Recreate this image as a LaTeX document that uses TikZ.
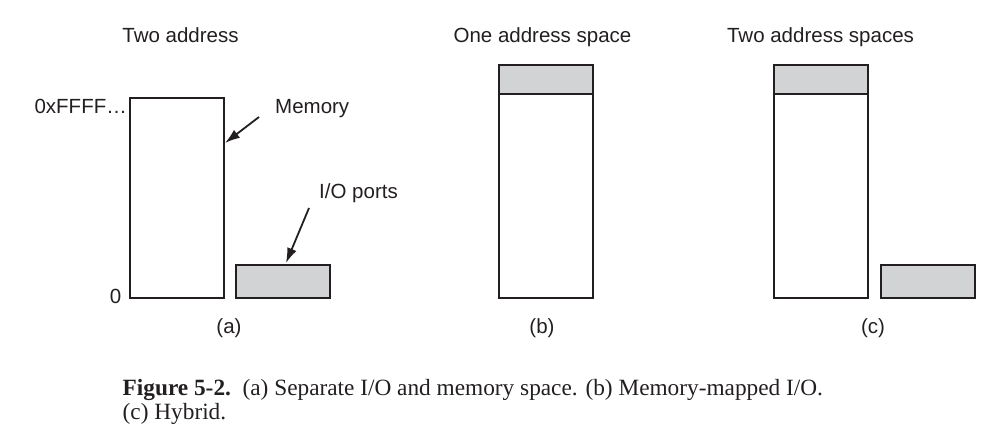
\documentclass[tikz,border=0pt]{standalone}
\usepackage{fontspec}
\setmainfont{Liberation Sans}
\newfontfamily\capfont{Liberation Serif}
\usetikzlibrary{arrows.meta}
\definecolor{ink}{HTML}{231F20}
\definecolor{iogray}{HTML}{D2D3D5}
\tikzset{
  blk/.style={draw=ink, line width=1.8pt, inner sep=0pt, outer sep=0pt, anchor=north west},
  mem/.style={blk, fill=white},
  io/.style={blk, fill=iogray},
  lbl/.style={font=\fontsize{20.5}{24}\selectfont, text=ink, inner sep=0pt},
  captxt/.style={anchor=base west, inner sep=0pt, text=ink, font=\capfont\fontsize{23.3}{24}\selectfont},
  arr/.style={draw=ink, line width=1.8pt, -{Latex[length=15pt,width=10pt]}},
}
\begin{document}
\begin{tikzpicture}[x=1pt,y=-1pt]
\useasboundingbox (0,0) rectangle (998,427);
% (a)
\node[mem, minimum width=94pt, minimum height=200pt] (memA) at (130,98) {};
\node[io, minimum width=94pt, minimum height=33pt] (ioA) at (236,265) {};
\node[lbl, anchor=base] (titleA) at (180.5,43) {Two address};
\node[lbl, anchor=base east] (top) at (127,113.5) {0xFFFF…};
\node[lbl, anchor=base east] (zero) at (121.5,303.5) {0};
\node[lbl, anchor=base west] (memlbl) at (275,114) {Memory};
\node[lbl, anchor=base west] (iolbl) at (319,199) {I/O ports};
\node[lbl, anchor=base] (capA) at (229,334) {(a)};
\coordinate (memtail) at (259,117);
\coordinate (memhead) at (225,143);
\coordinate (iotail) at (309,208);
\coordinate (iohead) at (286,263);
\draw[arr] (memtail) -- (memhead);
\draw[arr] (iotail) -- (iohead);
% (b)
\node[io, minimum width=94pt, minimum height=29pt] (ioB) at (499,65) {};
\node[mem, minimum width=94pt, minimum height=204pt] (memB) at (499,94) {};
\node[lbl, anchor=base] (titleB) at (542.5,43) {One address space};
\node[lbl, anchor=base] (capB) at (542,334) {(b)};
% (c)
\node[io, minimum width=94pt, minimum height=29pt] (ioC) at (774,65) {};
\node[mem, minimum width=94pt, minimum height=204pt] (memC) at (774,94) {};
\node[io, minimum width=94pt, minimum height=33pt] (ioC2) at (881,265) {};
\node[lbl, anchor=base] (titleC) at (820.5,43) {Two address spaces};
\node[lbl, anchor=base] (capC) at (873,334) {(c)};
% caption
\node[captxt] (caption1) at (122.5,395)
  {\textbf{Figure 5-2.}\ \ (a) Separate I/O and memory space. (b) Memory-mapped I/O.};
\node[captxt] (caption2) at (122.5,419) {(c) Hybrid.};
\end{tikzpicture}
\end{document}
